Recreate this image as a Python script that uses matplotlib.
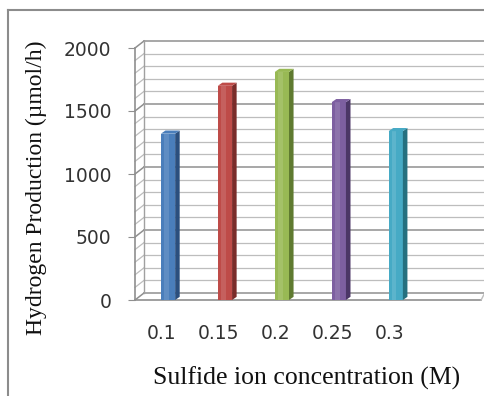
import matplotlib.pyplot as plt
import matplotlib.transforms as mtransforms
from matplotlib.patches import Polygon
from matplotlib.lines import Line2D

# data
concentrations = ['0.1', '0.15', '0.2', '0.25', '0.3']
production = [1320, 1700, 1810, 1570, 1340]
front_colors = ['#4a7ebb', '#be4b48', '#98b954', '#7d5fa0', '#46aac5']
side_colors = ['#2b4f7e', '#7a2c2a', '#5f7a30', '#4b3666', '#25707f']

fig = plt.figure(figsize=(4.84, 3.96), dpi=100)

# chart area border (top and left only visible in the crop)
fig.add_artist(Line2D([8/484, 8/484], [0, 1 - 10/396], color='#8c8c8c', lw=1.5))
fig.add_artist(Line2D([8/484, 1], [1 - 10/396, 1 - 10/396], color='#8c8c8c', lw=1.5))

ax = fig.add_axes([135/484, 96/396, 349/484, 252/396])
ax.set_xlim(-0.58, 5.55)
ax.set_ylim(0, 2000)

# 3d depth offsets (in data units)
dx = 9 / 57.0
dy = 7 / 0.126
x0, x1 = ax.get_xlim()

# walls and gridlines
for v in range(0, 2001, 100):
    c = '#8f8f8f' if v % 500 == 0 else '#bdbdbd'
    lw = 1.1 if v % 500 == 0 else 0.9
    ax.plot([x0, x0 + dx], [v, v + dy], color=c, lw=lw, clip_on=False)
    ax.plot([x0 + dx, x1], [v + dy, v + dy], color=c, lw=lw, clip_on=False)
ax.plot([x0 + dx, x0 + dx], [dy, 2000 + dy], color='#a0a0a0', lw=1, clip_on=False)
# floor front edge
ax.plot([x0, x1 - 0.05], [0, 0], color='#8f8f8f', lw=1.2, clip_on=False)
ax.plot([x1 - 0.05, x1], [0, dy * 0.8], color='#bdbdbd', lw=1, clip_on=False)

# bars with a little 3d side and cap
w = 0.125
sd = 0.08
rise = 25
for i, v in enumerate(production):
    ax.bar(i, v, width=2 * w, color=front_colors[i], edgecolor='none', zorder=3)
    ax.bar(i - w * 0.2, v, width=w * 0.6, color='white', alpha=0.12,
           edgecolor='none', zorder=3.5)
    side = Polygon([(i + w, 0), (i + w + sd, rise), (i + w + sd, v + rise), (i + w, v)],
                   closed=True, facecolor=side_colors[i], edgecolor='none', zorder=3)
    ax.add_patch(side)
    cap = Polygon([(i - w, v), (i - w + sd, v + rise), (i + w + sd, v + rise), (i + w, v)],
                  closed=True, facecolor=front_colors[i], edgecolor='none', zorder=4)
    ax.add_patch(cap)

for s in ['top', 'right', 'bottom']:
    ax.spines[s].set_visible(False)
ax.spines['left'].set_color('#8f8f8f')
ax.spines['left'].set_linewidth(1.2)

ax.set_yticks(range(0, 2001, 500))
ax.set_xticks(range(len(concentrations)))
ax.set_xticklabels(concentrations)
ax.tick_params(axis='y', length=5, color='#8f8f8f', labelsize=13.5, pad=12, labelcolor='#333333')
ax.tick_params(axis='x', length=0, labelsize=13.5, pad=17, labelcolor='#333333')
shift = mtransforms.ScaledTranslation(-6/100, 0, fig.dpi_scale_trans)
for lab in ax.get_xticklabels():
    lab.set_transform(lab.get_transform() + shift)
ax.set_facecolor('none')

fig.text(307/484, 1 - 378/396, 'Sulfide ion concentration (M)', family='Liberation Serif',
         fontsize=18.5, ha='center', va='center', color='#111111')
fig.text(36/484, 1 - 188/396, 'Hydrogen Production (\u00b5mol/h)', family='Liberation Serif',
         fontsize=17, ha='center', va='center', rotation=90, color='#111111')

fig.savefig('out.png', dpi=100)
